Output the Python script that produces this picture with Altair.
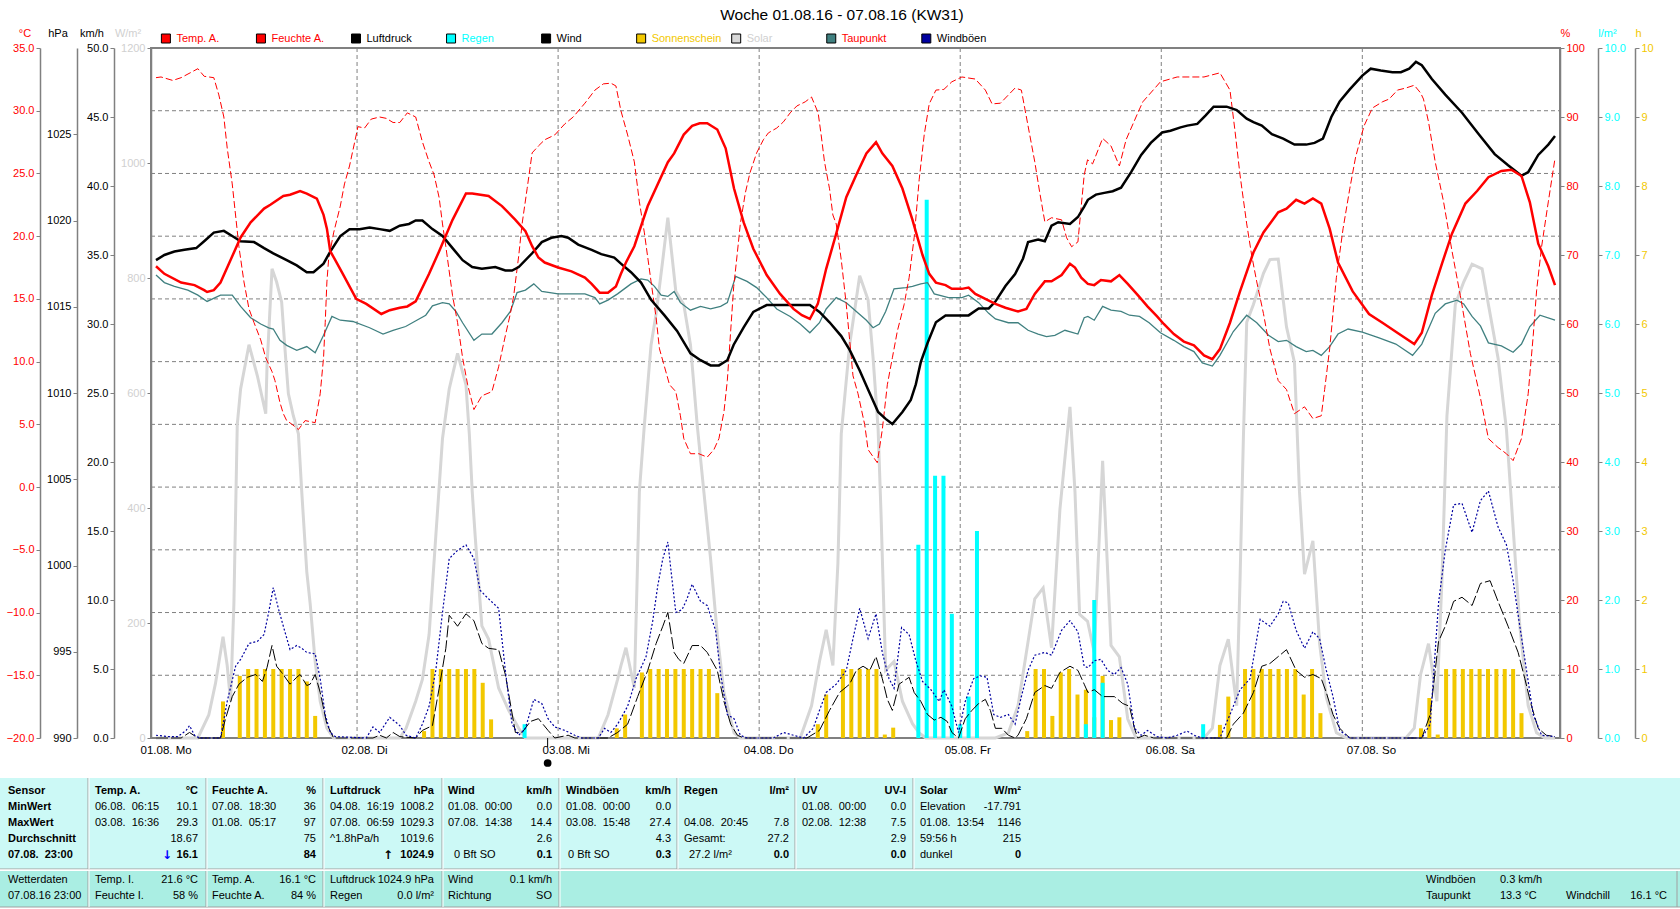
import altair as alt
import pandas as pd

FONT = "Liberation Sans"
W, H = 1409, 690          # plot area
PL, PT = 151, 48          # plot origin on the page

TITLE = "Woche 01.08.16 - 07.08.16 (KW31)"

# ---------------- data (t = hours since 01.08. 00:00) ----------------
TEMP = [(0,17.6),(1.0,17.0),(3.0,16.3),(4.6,16.1),(5.75,15.7),(6.1,15.55),(6.9,15.7),(7.7,16.3),(8.9,18.1),(10.1,19.9),
        (11.3,21.1),(12.9,22.2),(13.65,22.5),(15.2,23.2),(16.0,23.3),(17.2,23.6),(18.0,23.4),(19.2,23.0),(20.0,21.7),(20.4,20.6),
        (20.8,18.8),(21.4,18.1),(22.3,17.0),(23.9,15.0),(25.1,14.6),(26.9,13.8),(27.9,14.1),(29.1,14.3),(30.0,14.4),(31.0,14.8),
        (32.6,17.0),(33.8,18.8),(35.4,21.3),(37.0,23.4),(37.75,23.4),(39.7,23.2),(41.3,22.4),(42.9,21.3),(44.1,20.4),(44.9,19.2),
        (45.65,18.3),(46.4,17.9),(48.0,17.5),(49.6,17.2),(51.2,16.7),(52.0,16.2),(52.96,15.5),(53.95,15.5),(54.9,16.0),(55.5,17.0),
        (56.1,17.9),(57.1,19.2),(58.7,22.4),(61.1,25.9),(61.85,26.6),(63.0,28.1),(64.0,28.8),(64.9,29.0),(65.8,29.0),(67.0,28.5),
        (68.0,27.0),(69.0,23.8),(70.15,21.1),(71.3,19.0),(72.9,16.9),(74.5,15.4),(76.1,14.2),(77.1,13.7),(78.05,13.4),(79.0,14.6),
        (80.0,17.4),(81.2,20.2),(82.4,23.1),(83.6,24.9),(84.8,26.6),(85.95,27.5),(86.7,26.6),(87.9,25.6),(89.1,23.8),(90.3,21.3),
        (91.5,18.5),(92.3,17.0),(93.1,16.3),(94.25,16.1),(95.0,15.8),(96.2,15.8),(97.0,15.9),(97.8,15.4),(99.0,15.0),(100.2,14.6),
        (101.4,14.3),(102.9,14.0),(103.9,14.2),(104.9,15.4),(106.1,16.4),(106.9,16.4),(108.1,16.9),(109.1,17.8),(109.7,17.5),(110.45,16.7),
        (111.24,16.2),(112.0,16.1),(112.8,16.5),(114.0,16.4),(115.0,16.9),(116.0,16.2),(117.2,15.3),(118.35,14.4),(119.5,13.6),(120.3,13.0),
        (121.5,12.2),(122.7,11.6),(123.9,11.3),(125.1,10.5),(126.1,10.2),(127.0,11.0),(128.2,13.1),(129.4,15.6),(131.0,18.7),(132.2,20.3),
        (133.96,21.9),(134.95,22.2),(136.1,22.9),(137.1,22.6),(138.1,23.0),(139.1,22.6),(140.1,20.6),(141.1,17.9),(142.85,15.6),(144.8,13.8),
        (146.4,13.1),(148.4,12.2),(150.2,11.4),(151.1,12.3),(152.3,15.3),(153.5,17.8),(154.7,20.2),(156.3,22.6),(157.7,23.6),(159.05,24.7),
        (160.6,25.2),(161.8,25.3),(163.0,24.8),(164.0,22.7),(165.0,19.4),(166.2,17.6),(167.0,16.1)]

HUM = [(0,95.7),(0.6,95.8),(2.0,95.3),(3.0,95.7),(5.0,97.0),(5.75,95.9),(6.9,95.7),(7.5,93.2),(8.1,90.0),(8.5,85.5),(9.1,80.3),
       (9.9,71.2),(10.5,66.1),(11.1,62.2),(11.7,60.2),(12.5,57.7),(13.1,55.1),(13.85,53.1),(14.2,51.8),(14.8,48.6),(15.2,47.0),
       (15.6,46.0),(16.2,45.5),(17.0,44.7),(17.8,46.0),(19.0,45.7),(19.6,49.9),(20.0,55.1),(20.2,60.2),(20.4,66.1),(20.6,69.3),
       (21.2,73.2),(22.0,77.1),(22.5,80.3),(23.1,82.9),(23.9,87.4),(24.1,88.6),(24.9,88.4),(25.7,89.7),(26.7,90.0),(27.5,89.8),
       (28.3,89.2),(29.1,89.2),(30.0,90.6),(31.0,90.0),(31.8,86.4),(32.6,83.5),(33.2,81.6),(33.8,78.3),(34.2,74.5),(34.6,71.2),
       (35.4,64.1),(36.0,60.2),(36.6,55.1),(37.2,51.2),(37.95,47.6),(38.9,49.6),(40.1,50.2),(40.9,53.8),(41.7,58.3),(42.3,61.5),
       (42.7,64.1),(43.3,69.9),(43.7,74.5),(44.3,79.6),(44.9,84.8),(45.65,85.8),(46.4,86.7),(47.6,87.4),(48.8,89.0),(49.8,90.0),
       (51.2,92.0),(52.4,93.9),(53.4,94.8),(54.3,94.9),(54.9,94.5),(55.5,90.9),(56.3,87.4),(57.1,83.5),(57.7,77.7),(58.3,73.2),
       (59.1,66.1),(59.7,60.9),(60.1,56.4),(60.7,53.8),(61.3,51.2),(62.05,50.2),(62.6,46.7),(63.0,43.4),(63.8,41.2),(64.8,41.2),
       (65.8,40.7),(66.6,41.8),(67.2,43.4),(67.8,47.3),(68.2,51.8),(68.6,59.0),(68.96,65.4),(69.36,69.9),(69.75,74.5),(70.35,79.0),
       (70.9,81.9),(71.7,84.8),(72.5,86.7),(73.1,87.7),(74.1,88.4),(74.9,89.3),(75.7,90.6),(76.5,91.6),(77.5,92.2),(78.25,92.9),
       (79.04,90.6),(79.4,87.4),(79.8,83.5),(80.4,79.6),(80.8,75.8),(81.2,74.5),(81.8,69.3),(82.4,62.8),(82.8,57.7),(83.2,52.5),
       (83.8,49.9),(84.6,45.4),(85.0,41.8),(86.1,39.9),(86.7,44.7),(87.3,51.2),(87.9,55.1),(88.5,59.0),(89.3,62.8),(89.9,66.7),
       (90.5,72.5),(91.1,80.9),(91.7,87.4),(92.3,91.9),(93.1,93.9),(94.05,94.0),(95.0,95.1),(96.2,95.8),(97.8,95.5),(99.0,93.9),
       (99.8,91.9),(100.8,92.0),(102.55,94.2),(103.3,93.9),(103.7,91.3),(104.3,87.4),(104.9,83.5),(105.5,79.0),(106.1,74.8),(106.9,75.4),
       (108.1,75.1),(108.7,72.5),(109.3,71.2),(110.05,71.9),(110.45,77.1),(110.8,81.6),(111.2,83.8),(111.8,83.2),(113.0,86.9),(114.0,85.8),
       (115.0,82.9),(115.8,86.7),(117.2,90.6),(117.8,92.2),(119.9,95.1),(121.9,95.8),(125.1,95.8),(127.0,96.4),(128.2,93.9),(128.8,88.0),
       (129.4,81.6),(130.2,74.5),(130.8,69.9),(131.4,66.1),(132.2,61.5),(132.97,56.4),(133.96,51.8),(134.95,50.5),(135.9,47.0),(137.1,48.0),
       (138.1,46.3),(139.1,46.7),(139.5,50.5),(140.1,56.4),(140.9,66.7),(141.7,73.8),(142.5,79.6),(143.2,84.2),(144.2,88.7),(145.2,91.3),
       (146.4,92.2),(147.2,92.6),(148.2,93.9),(149.2,94.2),(150.2,94.6),(150.95,93.5),(151.3,92.6),(151.9,89.3),(152.7,83.5),(153.7,77.7),
       (154.7,70.6),(155.7,64.1),(156.9,55.7),(158.1,49.3),(159.05,43.4),(160.2,42.1),(161.2,41.2),(162.0,40.2),(163.0,43.4),(163.8,49.9),
       (164.4,58.3),(164.8,64.8),(165.4,71.2),(166.2,77.7),(167.0,84.0)]

PRESS = [(0,1017.7),(1.0,1018.0),(2.2,1018.2),(3.4,1018.3),(4.8,1018.4),(5.75,1018.8),(6.9,1019.3),(8.1,1019.4),(9.1,1019.1),
         (10.1,1018.8),(11.7,1018.75),(12.9,1018.4),(14.0,1018.1),(15.6,1017.7),(16.8,1017.4),(18.0,1017.0),(18.8,1017.0),(20.0,1017.5),
         (20.8,1018.2),(22.0,1019.1),(23.1,1019.5),(24.3,1019.5),(25.5,1019.6),(26.7,1019.5),(27.9,1019.4),(29.1,1019.7),(30.2,1019.8),
         (31.0,1020.0),(31.8,1020.0),(33.0,1019.5),(34.2,1019.1),(35.4,1018.4),(36.6,1017.7),(37.75,1017.3),(38.9,1017.2),(40.5,1017.3),
         (41.7,1017.1),(42.5,1017.1),(43.3,1017.3),(44.9,1018.1),(46.05,1018.75),(47.2,1019.0),(48.4,1019.1),(49.2,1019.0),(50.4,1018.6),
         (52.0,1018.3),(53.15,1018.05),(54.7,1017.85),(55.5,1017.5),(56.7,1017.0),(57.9,1016.4),(59.1,1015.4),(60.7,1014.5),(62.2,1013.6),
         (63.8,1012.3),(65.0,1011.9),(66.2,1011.6),(67.2,1011.6),(68.2,1011.9),(68.96,1012.8),(70.15,1013.8),(71.3,1014.7),(72.9,1015.1),
         (74.1,1015.1),(75.3,1015.1),(76.9,1015.1),(78.05,1015.1),(79.2,1014.7),(80.4,1014.1),(81.8,1013.3),(82.8,1012.5),(84.0,1011.3),
         (85.0,1010.2),(86.2,1008.9),(87.1,1008.5),(87.9,1008.2),(89.1,1008.9),(90.1,1009.6),(90.7,1010.5),(91.3,1011.8),(92.1,1012.9),
         (93.1,1014.1),(94.25,1014.5),(95.8,1014.5),(97.0,1014.5),(98.2,1014.9),(99.4,1014.9),(100.2,1015.3),(101.4,1016.2),(102.55,1016.9),
         (103.5,1017.8),(104.1,1018.75),(105.3,1018.9),(106.1,1018.8),(106.9,1019.7),(107.7,1019.9),(109.1,1019.8),(110.05,1020.2),
         (110.8,1020.8),(111.24,1021.2),(112.2,1021.5),(113.2,1021.6),(114.2,1021.7),(115.2,1021.9),(116.4,1022.8),(117.6,1023.8),
         (118.75,1024.5),(120.1,1025.1),(121.1,1025.2),(122.3,1025.4),(123.1,1025.5),(124.3,1025.6),(125.3,1026.1),(126.25,1026.6),
         (127.8,1026.6),(129.0,1026.4),(130.2,1025.9),(131.0,1025.7),(132.0,1025.5),(133.2,1025.0),(134.55,1024.75),(135.9,1024.4),
         (137.3,1024.4),(138.3,1024.5),(139.3,1024.75),(140.3,1026.0),(141.3,1026.9),(142.5,1027.6),(144.0,1028.4),(145.0,1028.8),
         (146.2,1028.7),(147.6,1028.6),(148.6,1028.6),(149.6,1028.8),(150.4,1029.2),(151.1,1029.0),(152.3,1028.2),(153.9,1027.3),
         (155.9,1026.25),(157.9,1025.0),(159.8,1023.85),(161.4,1023.2),(163.0,1022.6),(163.8,1022.8),(165.0,1023.8),(166.2,1024.4),
         (167.0,1024.9)]

DEW = [(0,16.9),(1.0,16.3),(2.2,16.0),(3.8,15.7),(5.0,15.3),(6.1,14.8),(7.7,15.3),(9.1,15.3),(10.1,14.4),(11.3,13.5),(12.5,13.0),
       (13.45,12.7),(14.0,12.6),(14.8,11.7),(15.6,11.3),(16.8,10.9),(18.0,11.2),(19.0,10.7),(20.0,12.1),(21.0,13.6),(22.0,13.3),
       (23.5,13.2),(25.5,12.7),(27.1,12.2),(28.3,12.5),(29.8,12.8),(31.4,13.4),(32.2,13.7),(33.0,14.45),(34.2,14.7),(35.0,14.6),
       (35.8,14.0),(36.6,13.1),(37.95,11.7),(38.9,12.2),(40.1,12.2),(41.3,13.1),(42.3,14.0),(43.1,15.5),(44.1,15.7),(45.1,16.2),
       (46.05,15.6),(48.0,15.4),(50.0,15.4),(51.2,15.4),(52.4,15.1),(52.96,14.6),(53.95,14.9),(55.1,15.4),(55.5,15.6),(56.7,16.2),
       (57.9,16.6),(58.7,16.5),(59.5,16.0),(60.3,15.3),(61.1,15.2),(61.85,15.6),(62.6,14.7),(63.8,14.1),(65.0,14.4),(66.2,14.2),
       (67.4,14.4),(68.2,14.7),(69.2,16.8),(70.55,16.4),(71.7,15.9),(72.9,15.1),(74.1,14.2),(75.7,13.6),(76.9,13.0),(78.05,12.3),
       (79.2,13.1),(80.0,14.2),(81.2,15.1),(82.4,14.7),(83.6,14.0),(84.8,13.3),(85.6,12.7),(86.35,13.0),(87.1,14.0),(88.1,15.8),
       (89.5,15.9),(90.3,16.0),(91.3,16.2),(92.1,16.3),(92.9,15.4),(94.6,15.1),(96.2,15.1),(97.0,15.3),(98.2,14.7),(99.4,13.85),
       (100.2,13.4),(101.75,13.1),(102.9,13.1),(104.1,12.5),(105.3,12.2),(106.3,12.0),(107.3,12.1),(108.5,12.5),(110.05,12.2),(110.8,13.5),
       (111.24,13.6),(112.0,13.3),(113.0,14.4),(114.0,14.1),(115.2,14.0),(116.2,13.7),(117.4,13.6),(118.55,13.1),(119.9,12.3),(121.5,11.7),
       (122.7,11.2),(123.9,10.8),(124.9,9.9),(126.1,9.65),(127.0,10.5),(128.6,12.4),(130.2,13.7),(131.4,13.1),(132.8,12.1),(133.96,11.6),
       (134.95,11.7),(136.1,11.2),(137.3,10.8),(138.1,10.9),(139.1,10.5),(140.1,11.2),(141.1,12.2),(142.3,12.6),(144.0,12.35),(146.0,11.9),
       (148.0,11.4),(150.0,10.5),(151.1,11.4),(152.7,13.85),(153.9,14.6),(155.3,14.9),(156.1,14.6),(157.1,13.6),(158.1,12.85),(159.05,11.5),
       (160.6,11.25),(162.0,10.75),(163.0,11.4),(164.0,12.8),(165.2,13.7),(167.0,13.3)]

SOLAR = [(0,0),(5.0,0),(6.3,40),(7.1,95),(8.0,176),(8.5,126),(8.9,64),(9.3,234),(9.7,545),(10.1,607),(11.1,684),(12.1,630),
         (13.1,564),(13.25,645),(13.85,816),(14.4,793),(15.0,758),(15.4,676),(15.8,599),(16.4,560),(17.0,529),(17.4,428),(18.0,289),
         (18.4,234),(19.0,133),(19.6,64),(20.4,17),(21.2,0),(29.1,0),(29.85,17),(31.0,64),(31.8,102),(32.6,180),(33.4,351),(33.8,436),
         (34.2,521),(35.0,607),(36.0,669),(37.0,614),(37.4,529),(37.75,428),(38.1,351),(38.5,273),(38.9,195),(39.7,172),(40.9,87),
         (42.1,48),(43.3,17),(44.1,0),(52.8,0),(53.95,40),(55.1,102),(55.5,126),(56.1,157),(57.1,87),(57.7,428),(58.3,545),(59.1,684),
         (59.7,738),(60.5,832),(61.1,905),(62.05,777),(63.0,754),(63.8,684),(64.6,545),(65.4,428),(66.2,312),(67.0,180),(67.8,79),
         (69.0,9),(69.75,0),(76.9,0),(78.25,56),(79.2,133),(80.0,188),(80.8,126),(81.4,304),(81.8,529),(82.8,684),(84.0,804),(85.0,762),
         (85.6,661),(86.2,537),(86.55,389),(87.1,118),(88.1,133),(89.1,64),(90.3,25),(91.1,9),(91.9,0),(100.2,0),(101.75,9),(102.9,56),
         (104.9,242),(105.9,261),(106.9,157),(107.9,397),(109.1,576),(109.7,428),(110.25,215),(111.2,203),(112.0,149),(113.0,482),
         (114.0,161),(115.0,141),(116.0,33),(117.0,0),(125.1,0),(126.1,17),(127.0,126),(128.0,172),(129.0,56),(129.4,273),(129.8,521),
         (130.2,723),(131.0,754),(132.2,808),(132.97,832),(133.96,833),(134.95,715),(135.9,653),(136.5,428),(137.1,285),(138.1,343),
         (138.9,164),(139.7,71),(140.9,9),(142.1,0),(149.2,0),(150.2,17),(150.95,110),(151.9,164),(152.9,64),(153.5,273),(154.1,560),
         (155.1,754),(156.1,793),(157.1,824),(158.3,816),(159.05,754),(160.2,661),(161.2,537),(162.0,366),(162.8,195),(163.8,56),
         (164.8,9),(165.8,0),(167.0,0)]

WIND = [(0,0),(3.0,0),(4.0,0.4),(5.0,0),(7.7,0),(8.3,1.4),(9.1,3.0),(9.9,3.9),(10.9,4.4),(11.9,4.6),(12.7,4.1),(13.25,5.1),
        (13.85,6.7),(14.4,5.2),(15.0,4.75),(16.0,3.9),(16.8,4.4),(17.2,4.6),(18.0,3.8),(18.4,3.9),(19.0,4.6),(19.6,3.3),(20.4,1.0),
        (21.2,0),(25.9,0),(26.7,0.2),(27.5,0),(28.3,0.4),(29.1,0.1),(31.0,0),(31.8,0.55),(33.0,0.9),(33.8,3.6),(34.6,6.5),(35.0,8.9),
        (36.0,8.1),(37.0,9.0),(37.95,8.5),(38.9,6.85),(39.7,6.5),(40.9,6.4),(41.7,4.6),(42.9,0.4),(43.7,0.4),(44.7,1.2),(45.65,1.4),
        (46.8,0.55),(47.6,0),(49.2,0.2),(50.0,0),(53.95,0),(55.1,0.4),(56.3,1.0),(57.5,3.0),(58.7,4.9),(59.7,6.85),(60.5,8.1),
        (61.1,9.1),(61.85,6.2),(62.4,5.7),(63.0,5.4),(64.0,6.7),(65.0,6.7),(65.8,6.2),(67.0,4.9),(67.8,2.65),(68.6,1.0),(69.4,0.2),
        (70.15,0),(77.7,0),(79.2,0.55),(80.4,2.0),(81.6,3.3),(82.8,3.9),(83.6,4.9),(84.4,5.2),(85.2,4.9),(85.95,5.9),(86.7,4.3),
        (87.3,2.8),(87.9,2.0),(88.7,3.9),(89.9,4.4),(90.5,3.3),(91.3,2.65),(92.1,1.7),(92.9,1.3),(93.7,1.5),(94.45,1.2),(95.0,0.4),
        (95.8,0),(96.6,1.4),(97.4,2.0),(98.2,2.5),(99.0,2.8),(99.6,2.0),(100.2,0.7),(100.97,0.7),(101.75,0.2),(102.55,0),(102.9,0.2),
        (103.9,1.4),(104.9,3.3),(106.1,3.8),(106.9,3.6),(107.9,4.75),(109.1,5.2),(110.05,4.9),(110.8,3.9),(111.24,3.3),(112.0,3.5),
        (113.0,3.0),(114.4,3.0),(115.4,2.5),(116.2,2.3),(116.8,0.7),(117.2,0),(118.0,0.2),(119.1,0),(127.8,0),(128.6,1.0),(129.8,1.8),
        (131.0,3.3),(132.0,5.2),(132.97,5.4),(133.96,5.9),(134.95,6.4),(136.1,4.9),(137.1,4.4),(138.1,4.6),(139.1,4.3),(139.7,3.3),
        (140.5,1.7),(141.3,0.7),(142.5,0),(151.1,0),(152.1,1.7),(153.1,7.0),(153.9,8.1),(154.9,9.9),(155.9,10.2),(157.1,9.6),
        (158.1,11.2),(159.25,11.4),(160.2,9.9),(161.4,8.1),(162.6,6.2),(163.4,4.3),(164.2,2.3),(165.0,0.7),(165.96,0.2),(167.0,0.1)]

GUST = [(0,0.2),(1.4,0.1),(2.6,0.1),(3.6,0.55),(4.0,0.9),(4.6,0.2),(5.2,0),(7.7,0),(8.5,2.65),(9.5,5.2),(10.1,5.7),(11.1,6.85),
        (12.1,7.0),(12.9,7.5),(13.45,9.1),(14.0,10.9),(14.6,9.4),(15.2,8.1),(16.0,6.4),(16.8,6.7),(17.4,6.5),(18.0,6.2),(19.0,6.1),
        (19.6,4.3),(20.2,1.7),(20.8,0.4),(21.4,0.1),(25.1,0),(25.9,0.8),(26.7,0.4),(27.9,1.5),(29.1,0.9),(29.85,0.2),(31.0,0),
        (31.8,1.0),(32.6,2.3),(33.4,4.9),(34.2,9.1),(35.0,13.0),(36.0,13.6),(37.0,14.0),(37.95,13.0),(38.7,10.7),(39.5,10.2),
        (40.9,9.4),(41.7,4.9),(42.5,1.0),(43.3,0.2),(44.1,0.7),(45.1,2.8),(46.05,2.5),(46.8,1.4),(47.6,0.8),(48.8,0.55),(50.0,0.2),
        (50.8,0),(52.8,0),(53.55,0.7),(54.3,0.4),(55.1,1.0),(56.3,2.3),(57.3,4.3),(58.5,5.9),(59.3,8.5),(59.9,11.05),(60.5,13.0),
        (61.1,14.2),(61.5,12.0),(62.05,9.1),(62.8,9.3),(63.4,10.1),(64.0,11.15),(65.0,9.9),(65.8,9.6),(66.8,7.8),(67.4,4.6),(68.2,1.7),
        (69.0,1.4),(69.75,0.2),(70.55,0),(73.7,0),(74.9,0.4),(76.1,0.2),(77.3,0),(78.45,0.7),(79.2,2.0),(80.0,3.3),(81.2,3.9),
        (82.4,4.9),(83.2,7.2),(84.0,9.4),(85.0,7.2),(85.95,9.0),(86.7,6.2),(87.5,4.3),(88.1,3.6),(89.0,8.0),(89.9,7.5),(90.7,5.6),
        (91.5,4.1),(92.5,3.5),(93.5,2.65),(94.05,3.5),(95.0,2.3),(95.8,0.4),(96.6,2.65),(97.6,4.3),(98.4,4.5),(99.2,4.4),(100.0,1.7),
        (100.8,1.5),(101.75,1.7),(102.55,1.0),(103.3,3.0),(104.1,4.9),(104.9,6.0),(106.1,6.2),(106.9,6.0),(108.1,7.8),(109.1,8.5),
        (110.05,7.7),(110.8,5.2),(111.24,5.1),(112.0,5.6),(112.8,5.7),(113.6,4.9),(114.4,4.6),(115.2,5.1),(116.0,3.9),(116.8,0.7),
        (117.6,0.2),(118.35,0.55),(119.5,0.1),(120.7,0),(121.9,0.2),(123.1,0.5),(123.9,0.2),(124.9,0),(127.0,0),(128.2,1.7),
        (129.4,3.5),(130.6,4.3),(131.8,8.6),(132.97,8.1),(133.96,9.0),(134.55,9.9),(135.15,9.8),(136.1,7.8),(137.1,6.5),(138.1,7.7),
        (138.9,7.2),(139.7,4.9),(140.5,3.0),(141.3,0.55),(142.5,0),(151.1,0),(152.1,1.0),(153.1,9.8),(153.9,13.6),(154.9,16.9),
        (155.9,17.0),(157.1,14.9),(158.1,17.2),(159.05,17.9),(160.2,15.3),(161.2,14.0),(162.0,11.4),(162.8,8.1),(163.6,4.9),
        (164.4,1.7),(165.4,0.2),(167.0,0.1)]

SUN = [(8,0.53),(10,0.9),(11,1),(12,1),(13,1),(14,1),(15,1),(16,1),(17,1),(18,0.82),(19,0.32),
       (32,0.1),(33,1),(34,1),(35,1),(36,1),(37,1),(38,1),(39,0.8),(40,0.27),
       (55,0.14),(56,0.34),(58,0.95),(59,1),(60,1),(61,1),(62,1),(63,1),(64,1),(65,1),(66,1),(67,0.65),
       (79,0.2),(80,0.63),(82,1),(83,1),(84,1),(85,1),(86,1),(87,0.05),(88,0.15),
       (104,0.1),(105,1),(106,1),(107,0.32),(108,0.95),(109,1),(110,0.63),(111,0.7),(112,0.3),(113,0.9),(114,0.26),(115,0.3),
       (127,0.19),(128,0.6),(130,1),(131,1),(132,1),(133,1),(134,1),(135,1),(136,1),(137,0.63),(138,1),(139,0.36),
       (151,0.14),(152,0.58),(153,0.05),(154,1),(155,1),(156,1),(157,1),(158,1),(159,1),(160,1),(161,1),(162,1),(163,0.36)]

RAIN = [(44,0.2),(91,2.8),(92,7.8),(93,3.8),(94,3.8),(95,1.8),(96,0.2),(97,0.6),(98,3.0),(111,0.2),(112,2.0),(113,0.8),(125,0.2)]

DAY_STARTS = [0, 24, 48, 72, 96, 120, 144]
DAY_LABELS = ["01.08. Mo", "02.08. Di", "03.08. Mi", "04.08. Do", "05.08. Fr", "06.08. Sa", "07.08. So"]
NEW_MOON_T = [46.75]

TEMP_TICKS = list(range(-20, 36, 5))
HPA_TICKS = list(range(990, 1026, 5))
KMH_TICKS = list(range(0, 51, 5))
SOLAR_TICKS = list(range(0, 1201, 200))
HUM_TICKS = list(range(0, 101, 10))
RAIN_TICKS = list(range(0, 11))
SUN_TICKS = list(range(0, 11))

LEG_NAMES = ["Temp. A.", "Feuchte A.", "Luftdruck", "Regen", "Wind", "Sonnenschein", "Solar", "Taupunkt", "Windböen"]

# ---------------- styles ----------------
RED, CYAN, GOLD, SOL, DEWC, GUSTC, GRID = "#ff0000", "#00ffff", "#f2c800", "#d6d6d6", "#408080", "#0000a0", "#808080"
LEG_BOX = [RED, RED, "#000000", CYAN, "#000000", GOLD, "#d8d8d8", DEWC, GUSTC]
LEG_TXT = [RED, RED, "#000000", CYAN, "#000000", GOLD, "#d0d0d0", RED, "#000000"]

xscale = alt.Scale(domain=[0, 167], nice=False, zero=False)


def xenc():
    return alt.X("t:Q", scale=xscale, axis=None)


def ysc(lo, hi):
    return alt.Scale(domain=[lo, hi], nice=False, zero=False)


def yaxis(orient, offset, values, fmt, color):
    return alt.Axis(orient=orient, offset=offset, values=values, format=fmt, labelColor=color,
                    domainColor=GRID, domainWidth=1.5, tickColor=GRID, tickSize=4, tickWidth=1,
                    labelFont=FONT, labelFontSize=11, labelPadding=2, grid=False, title=None,
                    labelOverlap=False, labelFlush=False)


def frame(pairs):
    return pd.DataFrame(pairs, columns=["t", "v"])


def line(pairs, dom, color, width, dash=None, axis=None):
    props = dict(color=color, strokeWidth=width)
    if dash:
        props["strokeDash"] = dash
    return alt.Chart(frame(pairs)).mark_line(**props).encode(
        x=xenc(), y=alt.Y("v:Q", scale=ysc(*dom), axis=axis))


def bars(pairs, dom, color, axis):
    return alt.Chart(frame(pairs)).mark_bar(color=color, size=4).encode(
        x=xenc(), y=alt.Y("v:Q", scale=ysc(*dom), axis=axis))


def texts(rows, align="left", weight="normal", size=11, font=FONT):
    d = pd.DataFrame(rows, columns=["x", "y", "s", "c"])
    d["x"] = d["x"] - PL
    d["y"] = d["y"] - PT
    return alt.Chart(d).mark_text(align=align, baseline="middle", fontSize=size, font=font,
                                  fontWeight=weight).encode(
        x=alt.X("x:Q", scale=None), y=alt.Y("y:Q", scale=None), text="s:N",
        color=alt.Color("c:N", scale=None))


def rects(rows, **mk):
    d = pd.DataFrame(rows, columns=["x0", "y0", "x1", "y1", "f"])
    d[["x0", "x1"]] = d[["x0", "x1"]] - PL
    d[["y0", "y1"]] = d[["y0", "y1"]] - PT
    return alt.Chart(d).mark_rect(**mk).encode(
        x=alt.X("x0:Q", scale=None), x2="x1:Q", y=alt.Y("y0:Q", scale=None), y2="y1:Q",
        fill=alt.Fill("f:N", scale=None))


def rules(rows, color):
    d = pd.DataFrame(rows, columns=["x0", "y0", "x1", "y1"])
    d[["x0", "x1"]] = d[["x0", "x1"]] - PL
    d[["y0", "y1"]] = d[["y0", "y1"]] - PT
    return alt.Chart(d).mark_rule(color=color, strokeWidth=1).encode(
        x=alt.X("x0:Q", scale=None), x2="x1:Q", y=alt.Y("y0:Q", scale=None), y2="y1:Q")


# ---------------- plot layers ----------------
grid_h = alt.Chart(pd.DataFrame({"v": TEMP_TICKS[1:-1]})).mark_rule(
    color=GRID, strokeDash=[4, 3], strokeWidth=1).encode(
    y=alt.Y("v:Q", scale=ysc(-20, 35), axis=None), x=alt.value(0), x2=alt.value(W))
grid_v = alt.Chart(pd.DataFrame({"t": DAY_STARTS[1:]})).mark_rule(
    color=GRID, strokeDash=[4, 3], strokeWidth=1).encode(x=xenc(), y=alt.value(0), y2=alt.value(H))

solar = line(SOLAR, (0, 1200), SOL, 3, axis=yaxis("left", 0, SOLAR_TICKS, "d", "#d0d0d0"))
sun = bars(SUN, (0, 10), GOLD, yaxis("right", 75, SUN_TICKS, "d", GOLD))
rain = bars(RAIN, (0, 10), CYAN, yaxis("right", 38, RAIN_TICKS, ".1f", CYAN))
dew = line(DEW, (-20, 35), DEWC, 1.3)
wind = line(WIND, (0, 50), "#000000", 1, dash=[12, 3], axis=yaxis("left", 37, KMH_TICKS, ".1f", "#000000"))
gust = line(GUST, (0, 50), GUSTC, 1.2, dash=[2, 2])
hum = line(HUM, (0, 100), RED, 1, dash=[7, 3], axis=yaxis("right", 0, HUM_TICKS, "d", RED))
press = line(PRESS, (990, 1030), "#000000", 2.5, axis=yaxis("left", 74, HPA_TICKS, "d", "#000000"))
temp = line(TEMP, (-20, 35), RED, 2.5, axis=yaxis("left", 111, TEMP_TICKS, ".1f", RED))

days = alt.Chart(pd.DataFrame({"t": DAY_STARTS, "lab": DAY_LABELS})).mark_text(
    align="left", baseline="middle", dx=-15.5, fontSize=11.5, font=FONT, color="#000000").encode(
    x=xenc(), y=alt.value(751 - PT), text="lab:N")
moon_tick = alt.Chart(pd.DataFrame({"t": NEW_MOON_T})).mark_rule(color="#000000").encode(
    x=xenc(), y=alt.value(H), y2=alt.value(H + 9))
moon = alt.Chart(pd.DataFrame({"t": NEW_MOON_T})).mark_point(
    shape="circle", filled=True, size=60, color="#000000", opacity=1).encode(
    x=xenc(), y=alt.value(763 - PT))

# ---------------- header: title, units, legend ----------------
title = texts([(842, 15, TITLE, "#000000")], align="center", size=15.5)
units = texts([(25, 33.5, "°C", RED), (58, 33.5, "hPa", "#000000"), (92, 33.5, "km/h", "#000000"),
               (128, 33.5, "W/m²", "#d0d0d0"), (1565.5, 33.5, "%", RED), (1607.5, 33.5, "l/m²", CYAN),
               (1638.5, 33.5, "h", GOLD)], align="center", size=11)
leg_x = [161.4 + i * 95.05 for i in range(len(LEG_NAMES))]
leg_boxes = rects([(x, 34, x + 9, 43, c) for x, c in zip(leg_x, LEG_BOX)], stroke="#000000", strokeWidth=1)
leg_text = texts([(x + 15, 38.5, n, c) for x, n, c in zip(leg_x, LEG_NAMES, LEG_TXT)], size=11)

# ---------------- table ----------------
BK = "#000000"
NB = "\u00a0\u00a0"
R = [791, 807, 823, 839, 855]
S = [880, 896]
bg = rects([(0, 778, 1680, 869, "#ccf9f6"), (0, 871, 1680, 907, "#aaeee3")])
sep_gray = rules([(x, 778, x, 869) for x in [88, 206, 323, 442, 559, 677, 795, 913]] +
                 [(x, 871, x, 907) for x in [88, 206, 323, 442, 559]] +
                 [(0, 869, 1680, 869), (0, 907, 1680, 907), (1677, 871, 1677, 907)], "#a0a0a0")
sep_white = rules([(x + 1, 778, x + 1, 869) for x in [88, 206, 323, 442, 559, 677, 795, 913]] +
                  [(x + 1, 871, x + 1, 907) for x in [88, 206, 323, 442, 559]] +
                  [(0, 870, 1680, 870)], "#ffffff")

hdr_left = [(8, R[0], "Sensor"), (95, R[0], "Temp. A."), (212, R[0], "Feuchte A."), (330, R[0], "Luftdruck"),
            (448, R[0], "Wind"), (566, R[0], "Windböen"), (684, R[0], "Regen"), (802, R[0], "UV"),
            (920, R[0], "Solar"), (8, R[1], "MinWert"), (8, R[2], "MaxWert"), (8, R[3], "Durchschnitt"),
            (8, R[4], "07.08." + NB + "23:00")]
hdr_right = [(198, R[0], "°C"), (316, R[0], "%"), (434, R[0], "hPa"), (552, R[0], "km/h"), (671, R[0], "km/h"),
             (789, R[0], "l/m²"), (906, R[0], "UV-I"), (1021, R[0], "W/m²"),
             (198, R[4], "16.1"), (316, R[4], "84"), (434, R[4], "1024.9"), (552, R[4], "0.1"), (671, R[4], "0.3"),
             (789, R[4], "0.0"), (906, R[4], "0.0"), (1021, R[4], "0")]
body_left = [(95, R[1], "06.08." + NB + "06:15"), (212, R[1], "07.08." + NB + "18:30"), (330, R[1], "04.08." + NB + "16:19"),
             (448, R[1], "01.08." + NB + "00:00"), (566, R[1], "01.08." + NB + "00:00"), (802, R[1], "01.08." + NB + "00:00"),
             (920, R[1], "Elevation"),
             (95, R[2], "03.08." + NB + "16:36"), (212, R[2], "01.08." + NB + "05:17"), (330, R[2], "07.08." + NB + "06:59"),
             (448, R[2], "07.08." + NB + "14:38"), (566, R[2], "03.08." + NB + "15:48"), (684, R[2], "04.08." + NB + "20:45"),
             (802, R[2], "02.08." + NB + "12:38"), (920, R[2], "01.08." + NB + "13:54"),
             (330, R[3], "^1.8hPa/h"), (684, R[3], "Gesamt:"), (920, R[3], "59:56 h"),
             (454, R[4], "0 Bft SO"), (568, R[4], "0 Bft SO"), (689, R[4], "27.2 l/m²"), (920, R[4], "dunkel"),
             (8, S[0], "Wetterdaten"), (8, S[1], "07.08.16 23:00"), (95, S[0], "Temp. I."), (95, S[1], "Feuchte I."),
             (212, S[0], "Temp. A."), (212, S[1], "Feuchte A."), (330, S[0], "Luftdruck"), (330, S[1], "Regen"),
             (448, S[0], "Wind"), (448, S[1], "Richtung"), (1426, S[0], "Windböen"), (1426, S[1], "Taupunkt"),
             (1500, S[0], "0.3 km/h"), (1500, S[1], "13.3 °C"), (1566, S[1], "Windchill")]
body_right = [(198, R[1], "10.1"), (316, R[1], "36"), (434, R[1], "1008.2"), (552, R[1], "0.0"), (671, R[1], "0.0"),
              (906, R[1], "0.0"), (1021, R[1], "-17.791"),
              (198, R[2], "29.3"), (316, R[2], "97"), (434, R[2], "1029.3"), (552, R[2], "14.4"), (671, R[2], "27.4"),
              (789, R[2], "7.8"), (906, R[2], "7.5"), (1021, R[2], "1146"),
              (198, R[3], "18.67"), (316, R[3], "75"), (434, R[3], "1019.6"), (552, R[3], "2.6"), (671, R[3], "4.3"),
              (789, R[3], "27.2"), (906, R[3], "2.9"), (1021, R[3], "215"),
              (198, S[0], "21.6 °C"), (198, S[1], "58 %"), (316, S[0], "16.1 °C"), (316, S[1], "84 %"),
              (434, S[0], "1024.9 hPa"), (434, S[1], "0.0 l/m²"), (552, S[0], "0.1 km/h"), (552, S[1], "SO"),
              (1667, S[1], "16.1 °C")]

t_hl = texts([r + (BK,) for r in hdr_left], weight="bold")
t_hr = texts([r + (BK,) for r in hdr_right], align="right", weight="bold")
t_bl = texts([r + (BK,) for r in body_left])
t_br = texts([r + (BK,) for r in body_right], align="right")
arrows = texts([(172, R[4], "↓", "#0000ff"), (393, R[4], "↑", "#000000")], align="right", weight="bold",
               size=12, font="DejaVu Sans")

chart = alt.layer(
    bg, sep_gray, sep_white,
    grid_h, grid_v, solar, sun, rain, dew, wind, gust, hum, press, temp,
    days, moon_tick, moon, title, units, leg_boxes, leg_text,
    t_hl, t_hr, t_bl, t_br, arrows,
).resolve_scale(y="independent").properties(
    width=W, height=H,
    padding={"left": PL, "top": PT, "right": 1680 - PL - W, "bottom": 909 - PT - H},
    autosize=alt.AutoSizeParams(type="none"),
    background="#ffffff",
).configure_view(stroke=GRID, strokeWidth=2)

chart.save("out.html", embed_options={"renderer": "svg", "actions": False})
